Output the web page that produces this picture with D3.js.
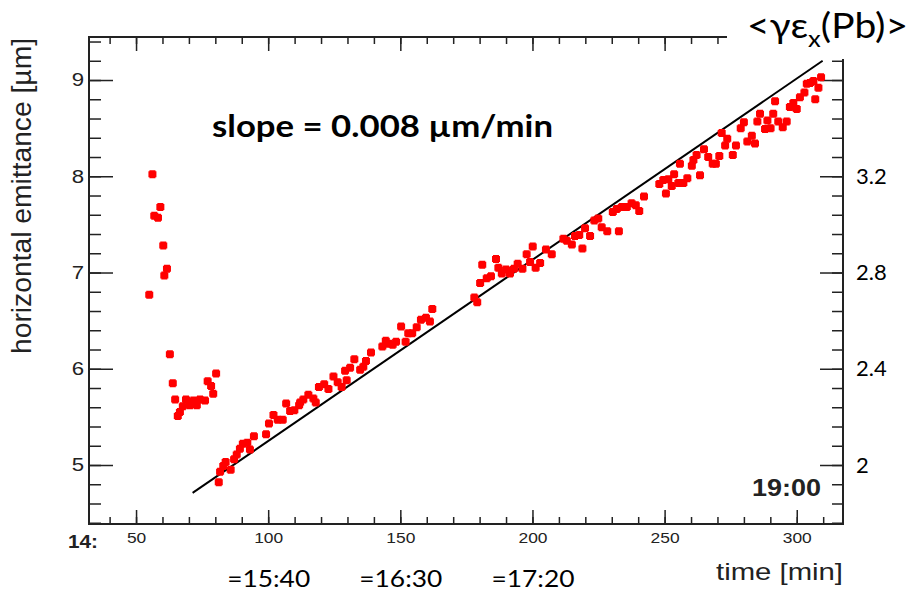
<!DOCTYPE html>
<html>
<head>
<meta charset="utf-8">
<script src="https://cdn.jsdelivr.net/npm/d3@7"></script>
<style>
  body { margin: 0; background: #fff; }
  svg { display: block; }
</style>
</head>
<body>
<div id="chart"></div>
<script>
// Measured points: time since 14:00 [min] and horizontal emittance [um].
const times = [
  55.0, 56.2, 56.9, 58.3, 59.2, 60.3, 60.7, 61.7, 62.8, 63.9, 64.8, 65.8, 66.6, 67.7, 68.9, 70.4,
  71.7, 73.0, 74.2, 76.1, 77.1, 78.4, 79.2, 80.3,
  81.3, 81.8, 83.0, 83.9, 85.8, 87.1, 88.1, 89.3, 90.4, 92.1, 93.1, 94.6, 99.2, 100.3, 102.0, 103.6,
  105.5, 106.8, 108.3, 109.9, 111.7, 112.1, 113.3, 115.2, 117.1, 118.0, 119.2, 121.2, 122.8, 124.7,
  126.3, 127.8, 129.1, 129.7, 131.0, 132.6, 134.8, 136.0, 137.0, 138.9, 143.2, 144.5, 145.7, 147.1,
  148.4, 150.3, 152.0, 153.0, 154.5, 156.2, 157.8, 159.7, 161.2, 162.1,
  178.0, 179.1, 180.2, 181.0, 182.7, 184.3, 186.2, 187.1, 188.4, 190.0, 191.5, 193.0, 194.4, 196.2,
  197.8, 199.1, 200.1, 201.2, 202.9, 205.1, 207.3, 211.7, 213.0, 214.9, 216.1, 217.7, 218.9, 219.9,
  221.8, 223.4, 224.9, 226.2, 228.3, 230.4, 231.9, 232.7, 233.8, 235.7, 237.5, 239.1, 240.4, 242.2,
  248.0, 249.5, 250.5, 251.4, 252.7, 253.6, 255.2, 255.8, 257.1, 258.6, 260.3, 260.9, 262.1, 263.4,
  264.9, 266.5, 268.2, 269.4, 270.7, 271.6, 272.9, 273.7, 275.8, 277.0, 278.8, 280.0, 281.3, 283.0,
  284.2, 285.1, 286.1, 288.0, 288.9, 290.1, 291.1, 291.8, 293.0, 294.7, 296.2, 297.4, 298.7, 300.0,
  301.2, 302.9, 303.8, 305.0, 306.3, 307.0, 308.2, 309.2
];
const emittance = [
  6.77, 8.02, 7.59, 7.57, 7.68, 7.28, 6.97, 7.04, 6.15, 5.85, 5.68, 5.51, 5.55, 5.61, 5.68, 5.62,
  5.67, 5.62, 5.68, 5.67, 5.87, 5.82, 5.74, 5.95,
  4.82, 4.93, 4.99, 5.03, 4.95, 5.06, 5.11, 5.17, 5.22, 5.23, 5.16, 5.30, 5.32, 5.43, 5.52, 5.47,
  5.47, 5.64, 5.56, 5.57, 5.62, 5.65, 5.68, 5.73, 5.69, 5.65, 5.81, 5.84, 5.79, 5.92,
  5.86, 5.81, 5.98, 5.88, 6.01, 6.10, 5.99, 6.02, 6.08, 6.17, 6.23, 6.29, 6.26, 6.25,
  6.28, 6.44, 6.28, 6.37, 6.37, 6.43, 6.51, 6.53, 6.49, 6.62,
  6.74, 6.69, 6.89, 7.08, 6.94, 6.96, 7.14, 7.05, 6.99, 7.03, 6.99, 7.04, 7.09, 7.04,
  7.19, 7.11, 7.27, 7.05, 7.10, 7.24, 7.19, 7.35, 7.33, 7.29, 7.38, 7.39, 7.25, 7.46,
  7.38, 7.54, 7.56, 7.47, 7.43, 7.63, 7.66, 7.43, 7.68, 7.68, 7.72, 7.70, 7.64, 7.79,
  7.92, 7.96, 7.82, 7.97, 7.90, 8.02, 7.93, 8.13, 7.93, 7.98, 8.11, 8.17, 8.22, 8.01,
  8.28, 8.20, 8.13, 8.13, 8.21, 8.45, 8.32, 8.39, 8.22, 8.32, 8.50, 8.56, 8.36, 8.42,
  8.34, 8.57, 8.65, 8.49, 8.58, 8.50, 8.65, 8.78, 8.57, 8.51, 8.57, 8.72, 8.76, 8.70,
  8.82, 8.87, 8.96, 8.97, 8.99, 8.80, 8.92, 9.03
];

// Straight fit line, end points.
const fitTimes = [71.4, 309.8];
const fitEmittance = [4.71, 9.2];

// Axis ticks.
const xMajor = [50, 100, 150, 200, 250, 300];
const xMinor = d3.range(4, 32).map(i => i * 10);
const yMajor = [5, 6, 7, 8, 9];
const yMinor = d3.range(22, 48).map(i => i * 0.2);
const rightMajor = [2, 2.4, 2.8, 3.2, 3.6];
const rightLabels = ['2', '2.4', '2.8', '3.2', ''];
const rightMinor = d3.range(22, 47).map(i => i * 0.08);

// Clock annotations under the time axis.
const clockTimes = [100, 150, 200];
const clockLabels = ['=15:40', '=16:30', '=17:20'];

const width = 910;
const height = 592;
const frame = { left: 89, right: 843, top: 37, bottom: 524 };
const ink = '#222';
const rootFont = '"Liberation Sans", Arial, sans-serif';
const slideFont = 'Lato, "Noto Sans", sans-serif';

const svg = d3.select('#chart')
  .append('svg')
  .attr('width', width)
  .attr('height', height);

const x = d3.scaleLinear().domain([32.2, 317.5]).range([frame.left, frame.right]);
const y = d3.scaleLinear().domain([4.387, 9.447]).range([frame.bottom, frame.top]);
// Right axis is the same quantity scaled by 0.4.
const y2 = d3.scaleLinear().domain(y.domain().map(v => v * 0.4)).range(y.range());

// Helper: draw one axis and style it like the ROOT plot.
const drawAxis = (axis, tx, ty) => {
  const g = svg.append('g')
    .attr('transform', `translate(${tx},${ty})`)
    .call(axis);
  g.select('.domain').remove();
  g.selectAll('line').attr('stroke', ink).attr('stroke-width', 1.5);
  return g;
};

// Bottom axis.
drawAxis(d3.axisBottom(x).tickValues(xMinor).tickSize(-7).tickFormat(''), 0, frame.bottom);
const bottom = drawAxis(d3.axisBottom(x).tickValues(xMajor).tickSize(-14).tickPadding(9)
  .tickFormat(d3.format('d')), 0, frame.bottom);
bottom.selectAll('text')
  .attr('fill', ink)
  .style('font-family', rootFont)
  .style('font-size', '14.5px')
  .attr('transform', 'scale(1.2,1)');

// Top axis.
drawAxis(d3.axisTop(x).tickValues(xMinor).tickSize(-7).tickFormat(''), 0, frame.top);
drawAxis(d3.axisTop(x).tickValues(xMajor).tickSize(-14).tickFormat(''), 0, frame.top);

// Left axis.
drawAxis(d3.axisLeft(y).tickValues(yMinor).tickSize(-12).tickFormat(''), frame.left, 0);
const left = drawAxis(d3.axisLeft(y).tickValues(yMajor).tickSize(-24).tickPadding(4)
  .tickFormat(d3.format('d')), frame.left, 0);
left.selectAll('text')
  .attr('fill', ink)
  .style('font-family', rootFont)
  .style('font-size', '18.5px')
  .attr('transform', 'scale(1.2,1)');

// Right axis.
drawAxis(d3.axisRight(y2).tickValues(rightMinor).tickSize(-11).tickFormat(''), frame.right, 0);
const right = drawAxis(d3.axisRight(y2).tickValues(rightMajor).tickSize(-23).tickPadding(13)
  .tickFormat((d, i) => rightLabels[i]), frame.right, 0);
right.selectAll('text')
  .attr('fill', '#000')
  .style('font-family', slideFont)
  .style('font-size', '22px');

// Frame.
svg.append('rect')
  .attr('x', frame.left)
  .attr('y', frame.top)
  .attr('width', frame.right - frame.left)
  .attr('height', frame.bottom - frame.top)
  .attr('fill', 'none')
  .attr('stroke', ink)
  .attr('stroke-width', 2);

// Fit line.
const line = d3.line()
  .x(d => x(d[0]))
  .y(d => y(d[1]));
svg.append('path')
  .datum(d3.zip(fitTimes, fitEmittance))
  .attr('d', line)
  .attr('fill', 'none')
  .attr('stroke', '#000')
  .attr('stroke-width', 2);

// Markers, a small filled square with stubby arms.
const marker = 'M-3,-4H3V-3H4V3H3V4H-3V3H-4V-3H-3Z';
svg.append('g')
  .selectAll('path')
  .data(d3.zip(times, emittance))
  .enter()
  .append('path')
  .attr('d', marker)
  .attr('transform', d => `translate(${x(d[0])},${y(d[1])})`)
  .attr('fill', '#ff0000');

// Label box over the top right corner.
svg.append('rect')
  .attr('x', 727)
  .attr('y', 0)
  .attr('width', width - 727)
  .attr('height', 59)
  .attr('fill', '#fff');

const title = svg.append('text')
  .attr('x', 747)
  .attr('y', 38)
  .attr('textLength', 161)
  .attr('lengthAdjust', 'spacingAndGlyphs')
  .style('font-family', slideFont)
  .style('font-size', '35px')
  .attr('fill', '#000');
title.append('tspan').text('<γε');
title.append('tspan').attr('dy', 9).style('font-size', '23px').text('x');
title.append('tspan').attr('dy', -9).text('(Pb)>');

// Axis titles.
svg.append('text')
  .attr('transform', 'translate(31,38) rotate(-90)')
  .attr('text-anchor', 'end')
  .attr('textLength', 316)
  .attr('lengthAdjust', 'spacingAndGlyphs')
  .style('font-family', rootFont)
  .style('font-size', '27px')
  .attr('fill', ink)
  .text('horizontal emittance [µm]');

svg.append('text')
  .attr('x', 716)
  .attr('y', 580)
  .attr('textLength', 127)
  .attr('lengthAdjust', 'spacingAndGlyphs')
  .style('font-family', rootFont)
  .style('font-size', '24px')
  .attr('fill', ink)
  .text('time [min]');

// Clock time notes.
svg.append('text')
  .attr('x', 68)
  .attr('y', 548)
  .attr('textLength', 30)
  .attr('lengthAdjust', 'spacingAndGlyphs')
  .style('font-family', rootFont)
  .style('font-size', '19px')
  .style('font-weight', 'bold')
  .attr('fill', ink)
  .text('14:');

svg.append('text')
  .attr('x', 752)
  .attr('y', 496)
  .attr('textLength', 69)
  .attr('lengthAdjust', 'spacingAndGlyphs')
  .style('font-family', rootFont)
  .style('font-size', '24px')
  .style('font-weight', 'bold')
  .attr('fill', ink)
  .text('19:00');

svg.append('g')
  .selectAll('text')
  .data(clockTimes)
  .enter()
  .append('text')
  .attr('x', d => x(d) - 41)
  .attr('y', 587)
  .attr('textLength', 83)
  .attr('lengthAdjust', 'spacingAndGlyphs')
  .style('font-family', slideFont)
  .style('font-size', '24px')
  .attr('fill', '#000')
  .text((d, i) => clockLabels[i]);

// Slope annotation.
svg.append('text')
  .attr('x', 212)
  .attr('y', 137)
  .attr('textLength', 341)
  .attr('lengthAdjust', 'spacingAndGlyphs')
  .style('font-family', slideFont)
  .style('font-size', '31px')
  .style('font-weight', 'bold')
  .attr('fill', '#000')
  .text('slope = 0.008 µm/min');
</script>
</body>
</html>
